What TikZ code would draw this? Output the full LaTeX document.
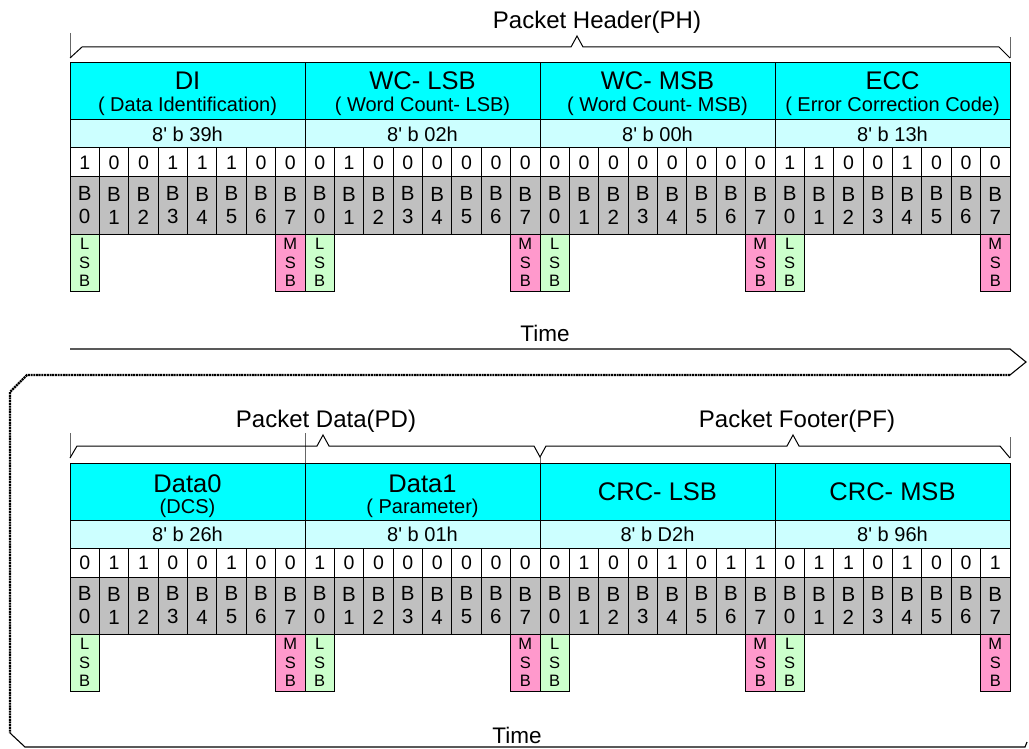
\documentclass[tikz,border=0pt]{standalone}
\usepackage{fontspec}
\setmainfont{Liberation Sans}
\usetikzlibrary{positioning}
\definecolor{hdcyan}{HTML}{00FFFF}
\definecolor{hexcyan}{HTML}{CCFFFF}
\definecolor{bitgray}{HTML}{C0C0C0}
\definecolor{lsbgreen}{HTML}{CCFFCC}
\definecolor{msbpink}{HTML}{FF99CC}
\tikzset{
  cellbase/.style={draw=black, line width=1pt, inner sep=0pt, outer sep=0pt, anchor=north west, align=center},
  hdcell/.style={cellbase, fill=hdcyan, minimum width=235pt, minimum height=57pt},
  hexcell/.style={cellbase, fill=hexcyan, minimum width=235pt, minimum height=28pt, font=\fontsize{20}{22}\selectfont},
  bitcell/.style={cellbase, fill=white, minimum width=29.375pt, minimum height=29pt, font=\fontsize{19.5}{20}\selectfont},
  bcell/.style={cellbase, fill=bitgray, minimum width=29.375pt, minimum height=57pt, font=\fontsize{20.5}{23}\selectfont},
  lsbcell/.style={cellbase, fill=lsbgreen, minimum width=29.375pt, minimum height=57.5pt, font=\fontsize{16.5}{18.5}\selectfont},
  msbcell/.style={lsbcell, fill=msbpink},
  ttltext/.style={inner sep=0pt, font=\fontsize{25.5}{28}\selectfont},
  subtext/.style={inner sep=0pt, font=\fontsize{20}{22}\selectfont},
  bigtext/.style={inner sep=0pt, font=\fontsize{24}{28}\selectfont},
  timetext/.style={inner sep=0pt, font=\fontsize{22.5}{26}\selectfont},
  brace line/.style={line width=1pt, line join=miter},
  tick line/.style={line width=0.8pt, black!60},
  time line/.style={line width=1.1pt},
  dot line/.style={line width=2.4pt, dash pattern=on 2pt off 0.7pt},
}

\begin{document}
\begin{tikzpicture}[x=1pt,y=-1pt]
	\useasboundingbox (0,0) rectangle (1029,749);

	% the two tables
	\foreach \h/\yo/\k/\ttl/\ty/\sub/\sy/\hex/\bits in {
		top/0/0/DI/17.5/( Data Identification)/43/8\textquotesingle{} b 39h/{1,0,0,1,1,1,0,0},
		top/0/1/WC- LSB/17.5/( Word Count- LSB)/43/8\textquotesingle{} b 02h/{0,1,0,0,0,0,0,0},
		top/0/2/WC- MSB/17.5/( Word Count- MSB)/43/8\textquotesingle{} b 00h/{0,0,0,0,0,0,0,0},
		top/0/3/ECC/17.5/( Error Correction Code)/43/8\textquotesingle{} b 13h/{1,1,0,0,1,0,0,0},
		bot/400/0/Data0/21/(DCS)/45.5/8\textquotesingle{} b 26h/{0,1,1,0,0,1,0,0},
		bot/400/1/Data1/21/( Parameter)/45.5/8\textquotesingle{} b 01h/{1,0,0,0,0,0,0,0},
		bot/400/2/CRC- LSB/28.5//0/8\textquotesingle{} b D2h/{0,1,0,0,1,0,1,1},
		bot/400/3/CRC- MSB/28.5//0/8\textquotesingle{} b 96h/{0,1,1,0,1,0,0,1}}{
		\coordinate (org-\h-\k) at ({70+235*\k},{\yo+63});
		\node[hdcell] (hd-\h-\k) at (org-\h-\k) {};
		\node[ttltext] (ttl-\h-\k) at ([yshift=-\ty*1pt]hd-\h-\k.north) {\ttl};
		\node[subtext] (sub-\h-\k) at ([yshift=-\sy*1pt]hd-\h-\k.north) {\sub};
		\node[hexcell] (hex-\h-\k) at (hd-\h-\k.south west) {\hex};
		\foreach \b [count=\i from 0] in \bits {
			\node[bitcell] (bit-\h-\k-\i) at ([xshift=\i*29.375pt]hex-\h-\k.south west) {\b};
			\node[bcell] (bb-\h-\k-\i) at (bit-\h-\k-\i.south west) {B\\\i};
		}
		\node[lsbcell] (lsb-\h-\k) at (bb-\h-\k-0.south west) {L\\S\\B};
		\node[msbcell] (msb-\h-\k) at (bb-\h-\k-7.south west) {M\\S\\B};
	}

	% packet header
	\draw[tick line] (70,33) -- (70,58);
	\draw[tick line] (1010,37) -- (1010,58);
	\draw[brace line] (70,58) -- (82,47) -- (571,47) -- (577,36) -- (583,47) -- (999,47) -- (1010,58);
	\node[bigtext] (ph) at (597,22) {Packet Header(PH)};

	% packet data and footer
	\draw[tick line] (70,433) -- (70,458);
	\draw[tick line] (305,433) -- (305,463);
	\draw[tick line] (540,457) -- (540,463);
	\draw[tick line] (1010,437) -- (1010,458);
	\draw[brace line] (70,458) -- (77,446) -- (317,446) -- (323,435) -- (329,446) -- (534,446) -- (540,457) -- (546,446) -- (787,446) -- (793,435) -- (799,446) -- (1000,446) -- (1010,458);
	\node[bigtext] (pd) at (326,421) {Packet Data(PD)};
	\node[bigtext] (pf) at (797,421) {Packet Footer(PF)};

	% time
	\node[timetext] (time1) at (545,333) {Time};
	\draw[time line] (70,349) -- (1010,349) -- (1026,362) -- (1010,375);
	\draw[dot line] (1010,375) -- (27,375) -- (10,392) -- (10,733);
	\draw[time line] (10,733) -- (25,747) -- (1025,747) -- (1027,742);
	\node[timetext] (time2) at (517,735) {Time};
\end{tikzpicture}
\end{document}
